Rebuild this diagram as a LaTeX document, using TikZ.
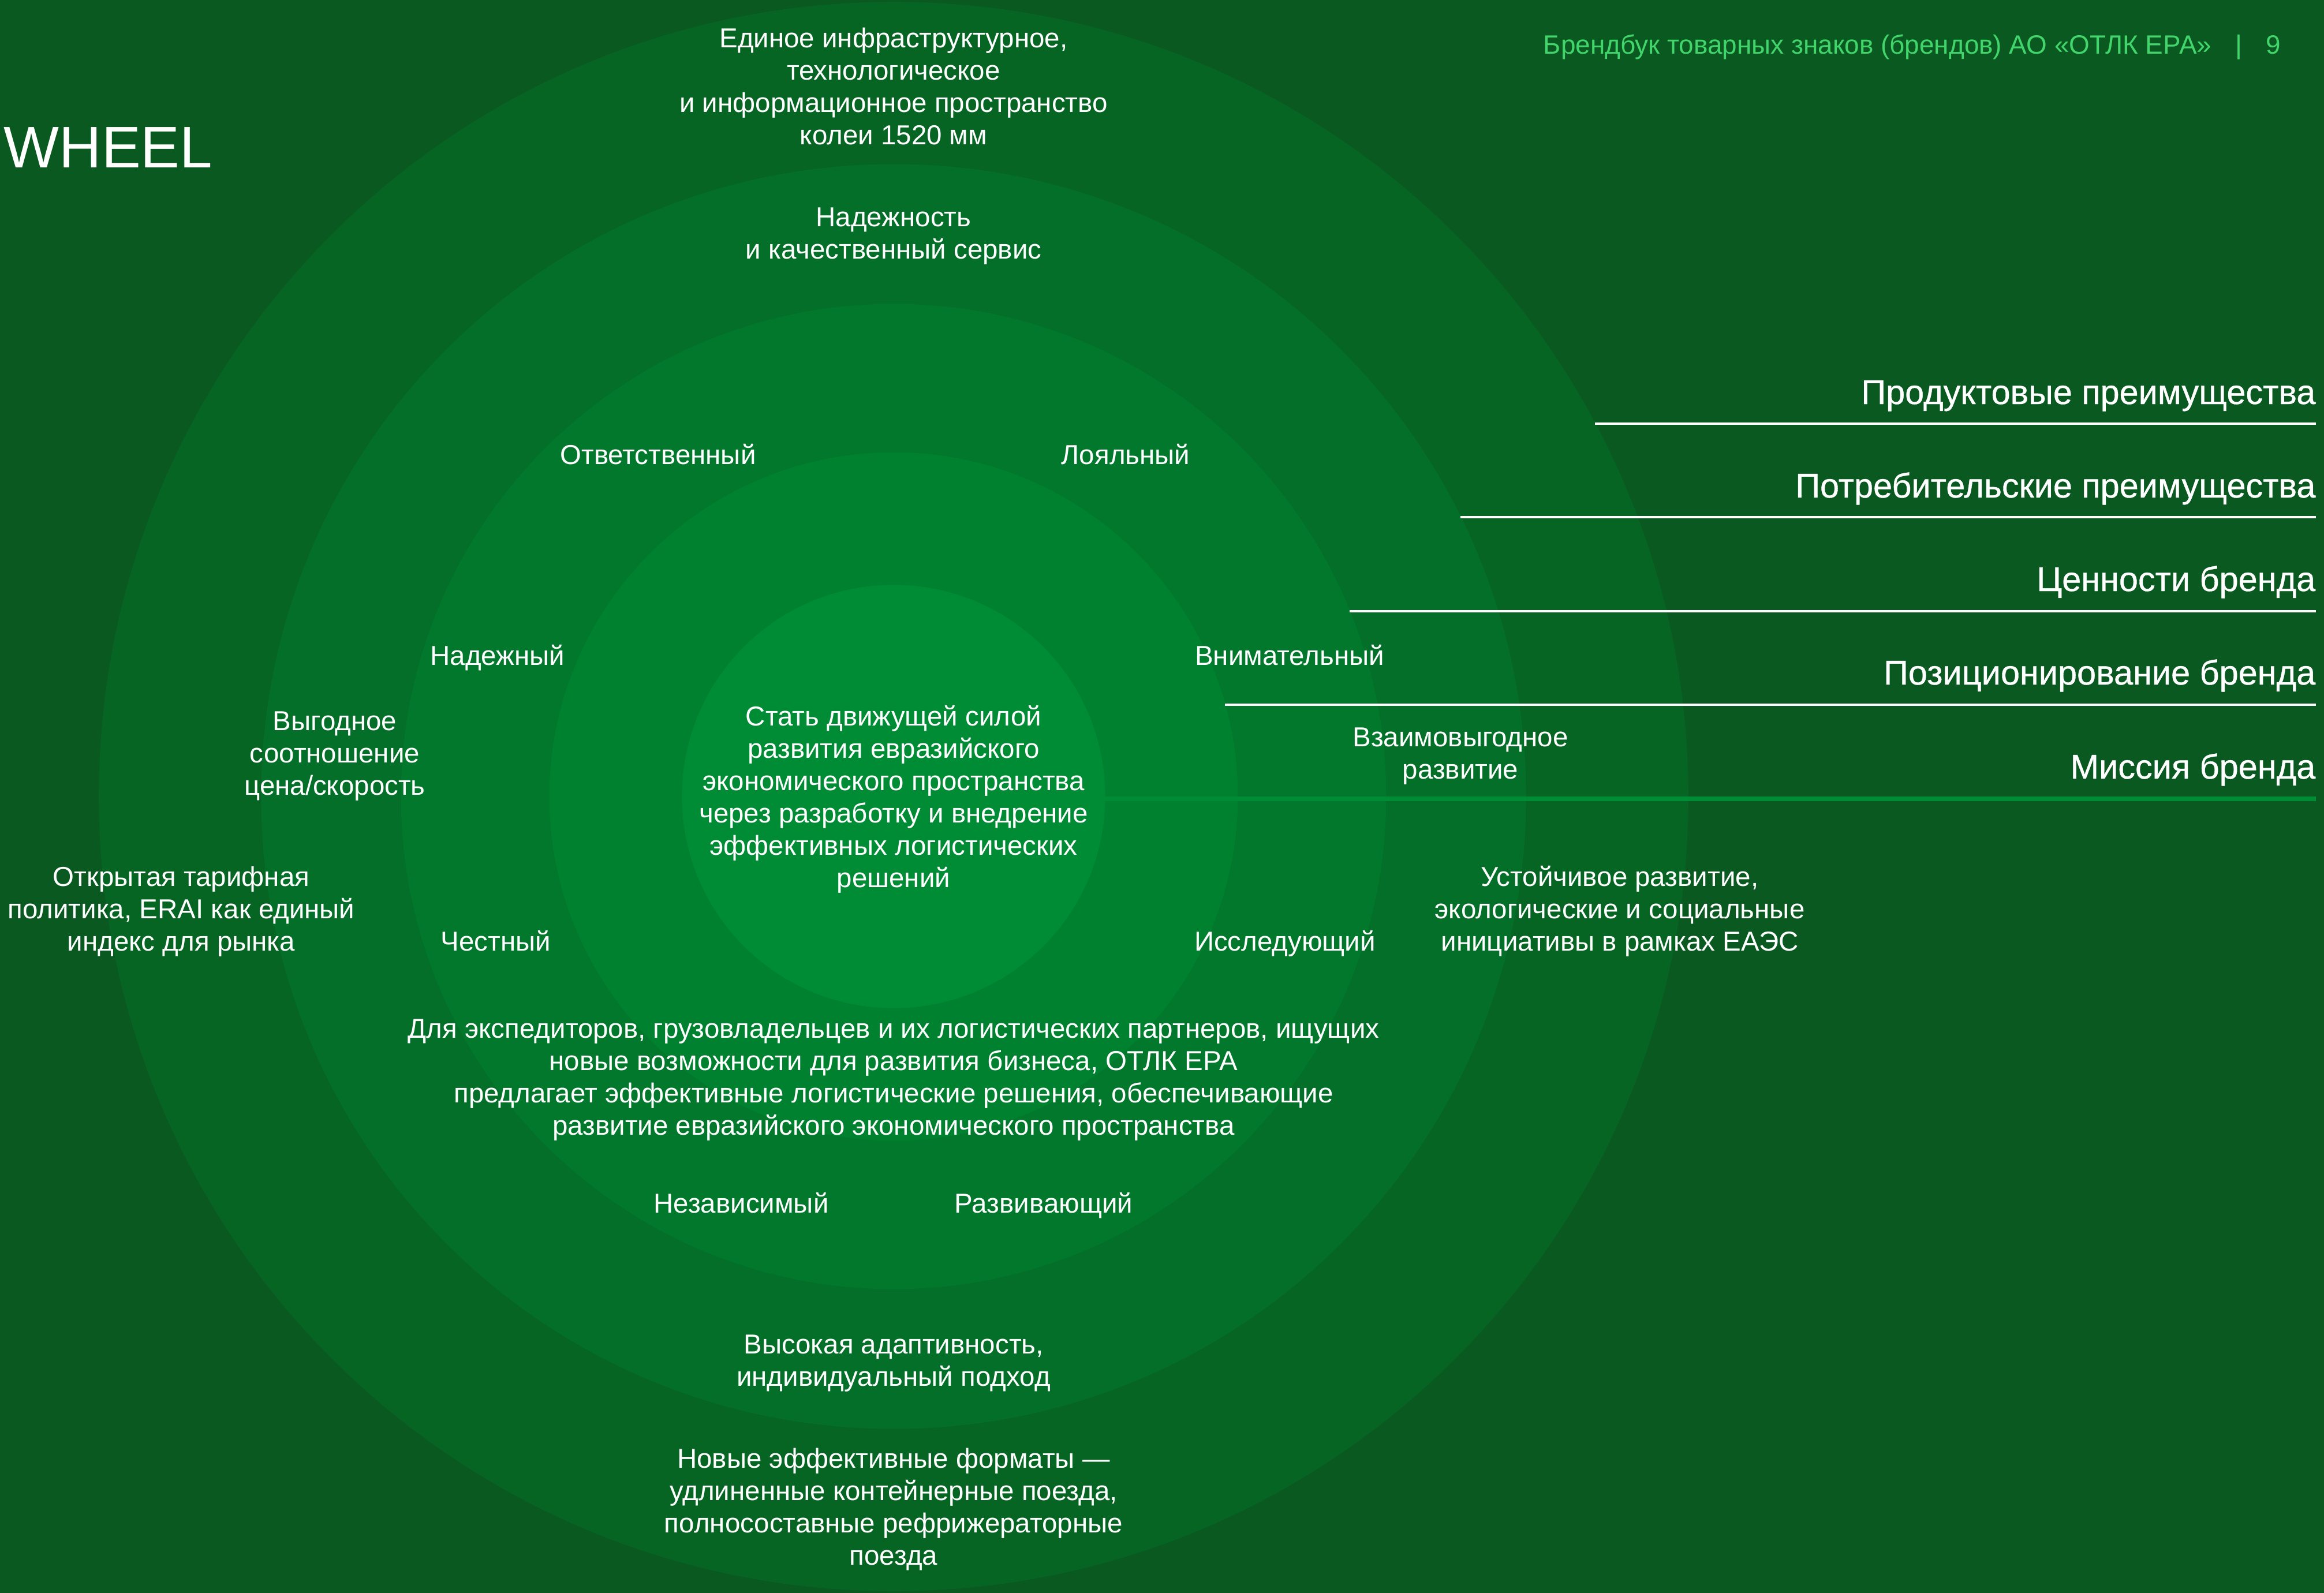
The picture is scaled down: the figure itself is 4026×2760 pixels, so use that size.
\documentclass[tikz,border=0pt]{standalone}
\usepackage{fontspec}
\setmainfont{Liberation Sans}
\definecolor{bgc}{RGB}{9,89,33}
\definecolor{ringa}{RGB}{7,101,36}
\definecolor{ringb}{RGB}{3,111,40}
\definecolor{ringc}{RGB}{1,120,44}
\definecolor{ringd}{RGB}{0,129,48}
\definecolor{ringe}{RGB}{0,139,53}
\definecolor{hdrc}{RGB}{66,213,108}
\begin{document}
\begin{tikzpicture}[x=0.01cm,y=-0.01cm,
  txt/.style={text=white, align=center, inner sep=0pt, anchor=base,
    font=\fontsize{13.5}{15.9}\selectfont},
  head/.style={text=white, inner sep=0pt, anchor=base east,
    font=\fontsize{16.9}{19}\selectfont\addfontfeature{FakeBold=0.6}},
  sepline/.style={draw=white, line width=1pt},
  misline/.style={draw=ringe, line width=2.3pt}]
\useasboundingbox (0,0) rectangle (4026,2760);
\fill[bgc] (0,0) rectangle (4026,2760);
\coordinate (c) at (1548,1380);
\fill[ringa] (c) circle[radius=13.76cm];
\fill[ringb] (c) circle[radius=10.95cm];
\fill[ringc] (c) circle[radius=8.53cm];
\fill[ringd] (c) circle[radius=5.96cm];
\fill[ringe] (c) circle[radius=3.665cm];

% title and header
\node[text=white, inner sep=0pt, anchor=base west, font=\fontsize{28.9}{34}\selectfont] (wheel) at (6,290) {WHEEL};
\node[text=hdrc, inner sep=0pt, anchor=base east, font=\fontsize{13.05}{15}\selectfont] (hdr) at (3952,93)
  {Брендбук товарных знаков (брендов) АО «ОТЛК ЕРА»\hspace{0.9em}|\hspace{0.9em}9};

% separator lines
\coordinate (l1s) at (2763,734);  \coordinate (l1e) at (4012,734);
\coordinate (l2s) at (2530,896);  \coordinate (l2e) at (4012,896);
\coordinate (l3s) at (2338,1059); \coordinate (l3e) at (4012,1059);
\coordinate (l4s) at (2122,1221); \coordinate (l4e) at (4012,1221);
\coordinate (l5s) at (1914,1384); \coordinate (l5e) at (4012,1384);
\draw[sepline] (l1s) -- (l1e);
\draw[sepline] (l2s) -- (l2e);
\draw[sepline] (l3s) -- (l3e);
\draw[sepline] (l4s) -- (l4e);
\draw[misline] (l5s) -- (l5e);

\node[head] (h1) at (4012,700) {Продуктовые преимущества};
\node[head] (h2) at (4012,862) {Потребительские преимущества};
\node[head] (h3) at (4012,1024) {Ценности бренда};
\node[head] (h4) at (4012,1186) {Позиционирование бренда};
\node[head] (h5) at (4012,1349) {Миссия бренда};

% wheel texts (anchor = baseline of last line)
\node[txt] (t1) at (1548,250) {Единое инфраструктурное,\\технологическое\\и информационное пространство\\колеи 1520 мм};
\node[txt] (t2) at (1548,448) {Надежность\\и качественный сервис};
\node[txt] (t3) at (1140,804) {Ответственный};
\node[txt] (t4) at (1950,804) {Лояльный};
\node[txt] (t5) at (862,1152) {Надежный};
\node[txt] (t6) at (2234,1152) {Внимательный};
\node[txt] (t7) at (580,1377) {Выгодное\\соотношение\\цена/скорость};
\node[txt] (t8) at (1548,1537) {Стать движущей силой\\развития евразийского\\экономического пространства\\через разработку и внедрение\\эффективных логистических\\решений};
\node[txt] (t9) at (2530,1349) {Взаимовыгодное\\развитие};
\node[txt] (t10) at (314,1647) {Открытая тарифная\\политика, ERAI как единый\\индекс для рынка};
\node[txt] (t11) at (859,1647) {Честный};
\node[txt] (t12) at (2226,1647) {Исследующий};
\node[txt] (t13) at (2806,1647) {Устойчивое развитие,\\экологические и социальные\\инициативы в рамках ЕАЭС};
\node[txt] (t14) at (1548,1966) {Для экспедиторов, грузовладельцев и их логистических партнеров, ищущих\\новые возможности для развития бизнеса, ОТЛК ЕРА\\предлагает эффективные логистические решения, обеспечивающие\\развитие евразийского экономического пространства};
\node[txt] (t15) at (1284,2101) {Независимый};
\node[txt] (t16) at (1808,2101) {Развивающий};
\node[txt] (t17) at (1548,2401) {Высокая адаптивность,\\индивидуальный подход};
\node[txt] (t18) at (1548,2711) {Новые эффективные форматы —\\удлиненные контейнерные поезда,\\полносоставные рефрижераторные\\поезда};
\end{tikzpicture}
\end{document}
